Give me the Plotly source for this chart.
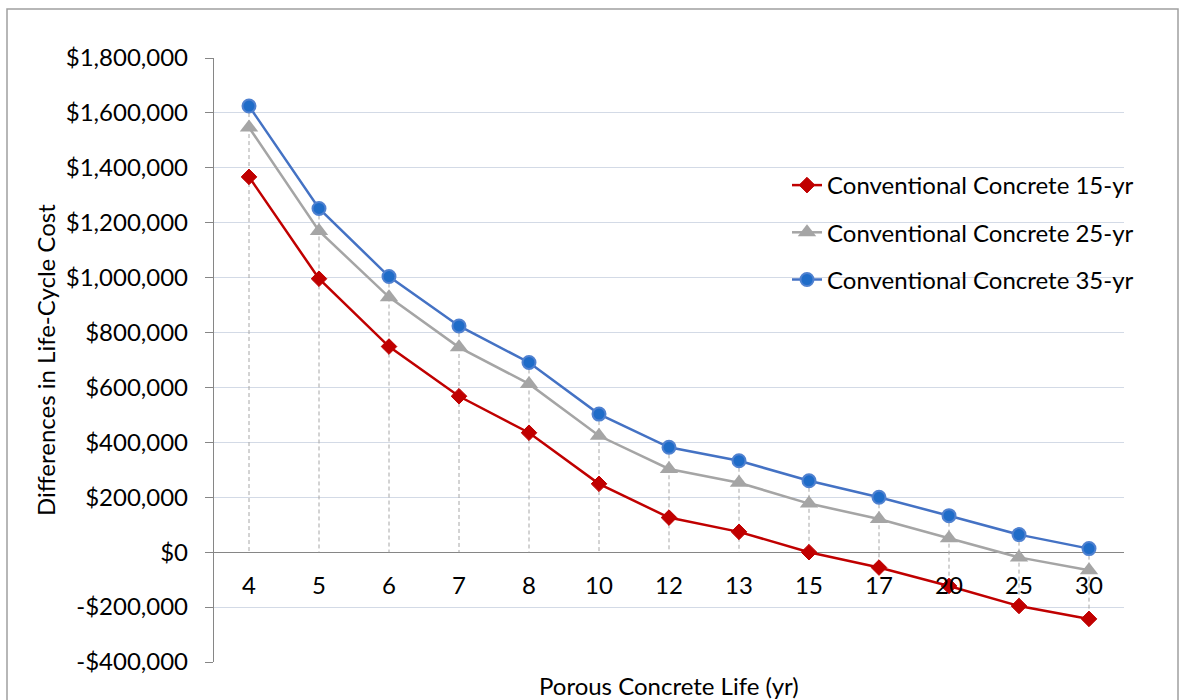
import plotly.graph_objects as go

# Porous concrete service life (category axis)
life_labels = ["4", "5", "6", "7", "8", "10", "12", "13", "15", "17", "20", "25", "30"]

# Differences in life-cycle cost vs. conventional concrete of given service life
cc_15yr = [1367000, 996000, 749000, 568000, 435000, 249000, 126000, 74000, 0,
           -56000, -123000, -196000, -243000]
cc_25yr = [1547000, 1170000, 929000, 746000, 613000, 424000, 303000, 253000, 177000,
           121000, 51000, -19000, -66000]
cc_35yr = [1625000, 1252000, 1004000, 824000, 691000, 503000, 382000, 333000, 260000,
           200000, 133000, 64000, 13000]

series_names = ["Conventional Concrete 15-yr", "Conventional Concrete 25-yr",
                "Conventional Concrete 35-yr"]

y_tick_vals = [-400000, -200000, 0, 200000, 400000, 600000, 800000,
               1000000, 1200000, 1400000, 1600000, 1800000]
y_tick_text = ["-$400,000", "-$200,000", "$0", "$200,000", "$400,000", "$600,000",
               "$800,000", "$1,000,000", "$1,200,000", "$1,400,000", "$1,600,000",
               "$1,800,000"]

y_min, y_max = y_tick_vals[0], y_tick_vals[-1]

FONT = "Lato"
FS = 24
TEXT = "#000000"
AXIS = "#868686"
GRID = "#D3DAE6"

W, H = 1180, 700
M_L, M_R, M_T, M_B = 214, 56, 58, 38
plot_w = W - M_L - M_R
plot_h = H - M_T - M_B

fig = go.Figure()

# Drop lines: dashed verticals spanning each category's values and the zero line
drop_x, drop_y = [], []
for i, lab in enumerate(life_labels):
    vals = [cc_15yr[i], cc_25yr[i], cc_35yr[i], 0]
    drop_x += [lab, lab, None]
    drop_y += [max(vals), min(vals), None]
fig.add_trace(go.Scatter(
    x=drop_x, y=drop_y, mode="lines", showlegend=False, hoverinfo="skip",
    line=dict(color="#A6A6A6", width=1, dash="4px,3px"),
))

styles = [
    dict(line_color="#C00000", marker=dict(symbol="diamond", size=12, color="#C00000",
                                           line=dict(color="#C00000", width=1))),
    dict(line_color="#A5A5A5", marker=dict(symbol="triangle-up", size=16, color="#A5A5A5",
                                           line=dict(color="#A5A5A5", width=0))),
    dict(line_color="#4472C4", marker=dict(symbol="circle", size=13, color="#1F6CC8",
                                           line=dict(color="#4F81D0", width=2))),
]

for name, vals, st in zip(series_names, [cc_15yr, cc_25yr, cc_35yr], styles):
    fig.add_trace(go.Scatter(
        x=life_labels, y=vals, name=name, mode="lines+markers",
        legendgroup=name,
        line=dict(color=st["line_color"], width=2.5),
        marker=st["marker"],
    ))

zero_pos = (0 - y_min) / (y_max - y_min)

fig.update_layout(
    width=W, height=H, autosize=False,
    margin=dict(l=M_L, r=M_R, t=M_T, b=M_B),
    paper_bgcolor="white", plot_bgcolor="white",
    font=dict(family=FONT, size=FS, color=TEXT),
    showlegend=True,
    legend=dict(
        x=(787 - M_L) / plot_w, xanchor="left",
        y=(H - M_B - 163) / plot_h, yanchor="top",
        bgcolor="rgba(0,0,0,0)", borderwidth=0,
        traceorder="grouped", tracegroupgap=13,
        font=dict(family=FONT, size=FS, color=TEXT),
    ),
    xaxis=dict(
        type="category", categoryorder="array", categoryarray=life_labels,
        range=[-0.5, len(life_labels) - 0.5],
        anchor="free", position=zero_pos,
        showline=False, showgrid=False, zeroline=False, ticks="",
        ticklabelstandoff=17,
        tickfont=dict(family=FONT, size=FS, color=TEXT),
    ),
    yaxis=dict(
        range=[y_min, y_max],
        tickvals=y_tick_vals, ticktext=y_tick_text,
        showgrid=True, gridcolor=GRID, gridwidth=1.3,
        zeroline=True, zerolinecolor=AXIS, zerolinewidth=1.3,
        showline=True, linecolor=AXIS, linewidth=1.3,
        ticks="outside", ticklen=8, tickcolor=AXIS, tickwidth=1.3,
        ticklabelstandoff=12,
        tickfont=dict(family=FONT, size=FS, color=TEXT),
    ),
    shapes=[
        # outer chart frame
        dict(type="rect", xref="paper", yref="paper", layer="below",
             x0=(7 - M_L) / plot_w, x1=(1178 - M_L) / plot_w,
             y0=(H - M_B - 720) / plot_h, y1=(H - M_B - 9) / plot_h,
             line=dict(color="#A0A0A0", width=1.5), fillcolor="rgba(0,0,0,0)"),
    ],
    annotations=[
        dict(text="Differences in Life-Cycle Cost", textangle=-90,
             xref="paper", yref="paper", x=0, y=0.5,
             xshift=45 - M_L, xanchor="center", yanchor="middle",
             showarrow=False, font=dict(family=FONT, size=FS, color=TEXT)),
        dict(text="Porous Concrete Life (yr)",
             xref="paper", yref="paper", x=0.5, y=0,
             yshift=-(685 - (H - M_B)), xanchor="center", yanchor="middle",
             showarrow=False, font=dict(family=FONT, size=FS, color=TEXT)),
    ],
)

fig.write_html("out.html")
